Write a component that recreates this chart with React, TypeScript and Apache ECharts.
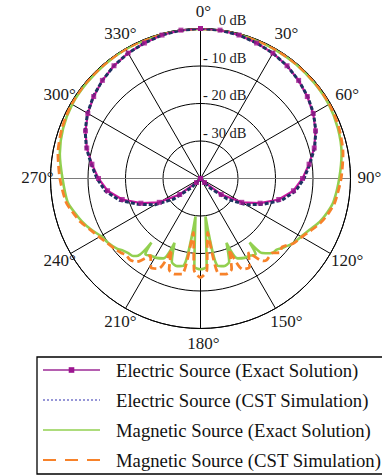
import React, { useEffect, useRef } from 'react';
import * as echarts from 'echarts';

// Electric source, angle (deg) and level (dB)
const elecAngles = [0, 7.5, 15, 22.5, 30, 37.5, 45, 52.5, 60, 67.5, 75, 82.5, 90, 97.5, 105, 112.5, 120, 127.5, 135, 142.5, 150, 157.5, 165, 172.5, 180,
  187.5, 195, 202.5, 210, 217.5, 225, 232.5, 240, 247.5, 255, 262.5, 270, 277.5, 285, 292.5, 300, 307.5, 315, 322.5, 330, 337.5, 345, 352.5, 360];
const elecExact = [0, -0.1, -0.4, -0.9, -1.4, -2.1, -3.0, -4.1, -5.3, -6.8, -8.6, -10.8, -12.8, -15.0, -18.4, -22.8, -27.3, -33.0, -38.5, -40, -40, -40, -40, -40, -40,
  -40, -40, -40, -40, -40, -38.5, -33.0, -27.3, -22.8, -18.4, -15.0, -12.8, -10.8, -8.6, -6.8, -5.3, -4.1, -3.0, -2.1, -1.4, -0.9, -0.4, -0.1, 0];
const elecCST = [0, -0.1, -0.4, -0.9, -1.4, -2.1, -3.0, -4.0, -5.2, -6.7, -8.5, -10.6, -12.4, -14.4, -17.6, -22.0, -26.0, -31.0, -36.5, -40, -40, -40, -40, -40, -40,
  -40, -40, -40, -40, -40, -36.5, -31.0, -26.0, -22.0, -17.6, -14.4, -12.4, -10.6, -8.5, -6.7, -5.2, -4.0, -3.0, -2.1, -1.4, -0.9, -0.4, -0.1, 0];

// Magnetic source
const magAngles = [0, 10, 20, 30, 40, 50, 60, 70, 80, 90,
  100, 105, 110, 115, 120, 125, 130, 133, 136, 139,
  141, 142.5, 144, 147, 151, 155, 158, 161, 165, 169,
  172.5, 176, 180, 184, 187.5, 191, 195, 199, 202, 205,
  209, 213, 216, 217.5, 219, 221, 224, 227, 230, 235,
  240, 245, 250, 255, 260, 270, 280, 290, 300, 310,
  320, 330, 340, 350, 360];
const magExact = [-0.1, -0.1, -0.2, -0.3, -0.3, -0.4, -0.5, -1.0, -1.8, -3.0,
  -4.0, -5.0, -6.2, -7.8, -9.0, -9.9, -11.3, -12.2, -12.4, -13.6,
  -14.6, -18.5, -15.0, -15.5, -15.8, -16.5, -21.5, -16.5, -15.8, -16.3,
  -29.8, -16.5, -15.8, -16.5, -29.8, -16.3, -15.8, -16.5, -21.5, -16.5,
  -15.8, -15.5, -15.0, -18.5, -13.5, -12.6, -12.3, -11.8, -10.9, -10.0,
  -9.3, -7.8, -6.4, -5.2, -4.0, -3.2, -1.9, -1.0, -0.5, -0.4,
  -0.3, -0.2, -0.2, -0.1, -0.1];
const magCST = [0, 0, -0.1, -0.2, -0.2, -0.2, -0.3, -0.7, -1.4, -2.5,
  -3.6, -4.6, -5.8, -7.4, -8.8, -9.8, -11.6, -11.0, -12.4, -12.2,
  -12.0, -12.3, -13.2, -16.5, -13.0, -13.3, -19.5, -14.5, -13.6, -14.0,
  -25.5, -15.5, -13.6, -15.5, -25.5, -14.0, -13.6, -14.3, -19.5, -13.5,
  -12.8, -15.5, -13.0, -12.0, -11.6, -11.3, -11.5, -11.0, -10.5, -9.8,
  -8.8, -7.6, -6.0, -4.8, -3.6, -2.5, -1.4, -0.7, -0.3, -0.2,
  -0.2, -0.1, -0.1, 0, 0];

// Tick labels
const angleTicks = [0, 30, 60, 90, 120, 150, 180, 210, 240, 270, 300, 330];
const radiusTicks = [0, -10, -20, -30];

const seriesNames = [
  'Electric Source (Exact Solution)',
  'Electric Source (CST Simulation)',
  'Magnetic Source (Exact Solution)',
  'Magnetic Source (CST Simulation)',
];

const SERIF = 'Liberation Serif, Times New Roman, serif';
const CX = 200.5, CY = 178.5, R = 150, RMIN = -40, RMAX = 0;

const toPolar = (vals: number[], angs: number[]) => vals.map((v, i) => [v, angs[i]]);

function tickLabelGraphics() {
  const out: any[] = [];
  angleTicks.forEach((a) => {
    const rad = (a * Math.PI) / 180;
    const dx = Math.sin(rad), dy = -Math.cos(rad);
    const rr = R + 16;
    out.push({
      type: 'text', x: CX + rr * dx + 3, y: CY + rr * dy - 1, z: 10,
      style: { text: a + '°', fontFamily: SERIF, fontSize: 17, fill: '#1a1a1a', align: 'center', verticalAlign: 'middle' },
    });
  });
  radiusTicks.forEach((v) => {
    const r = (R * (v - RMIN)) / (RMAX - RMIN);
    out.push({
      type: 'text', x: CX + 46, y: CY - r - 1, z: 10,
      style: {
        text: v === 0 ? '0 dB' : '- ' + Math.abs(v) + ' dB',
        fontFamily: SERIF, fontSize: 14.5, fill: '#1a1a1a', align: 'right', verticalAlign: 'bottom',
      },
    });
  });
  return out;
}

export default function App() {
  const ref = useRef<HTMLDivElement>(null);
  useEffect(() => {
    const chart = echarts.init(ref.current!, null, { renderer: 'svg' });
    const spokeColors = ['#000', '#000', '#000', '#7a7a7a', '#000', '#000', '#000', '#000', '#000', '#7a7a7a', '#000', '#000'];
    chart.setOption({
      animation: false,
      backgroundColor: '#fff',
      textStyle: { fontFamily: SERIF },
      polar: { center: [CX, CY], radius: R },
      angleAxis: {
        type: 'value', min: 0, max: 360, interval: 30, startAngle: 90, clockwise: true,
        axisLine: { show: true, lineStyle: { color: '#000', width: 1 } },
        axisTick: { show: false },
        axisLabel: { show: false },
        splitLine: { show: true, lineStyle: { color: spokeColors, width: 1 } },
      },
      radiusAxis: {
        type: 'value', min: RMIN, max: RMAX, interval: 10,
        axisLine: { show: false }, axisTick: { show: false },
        splitLine: { show: true, lineStyle: { color: '#000', width: 1 } },
        axisLabel: { show: false },
      },
      graphic: tickLabelGraphics(),
      legend: {
        orient: 'vertical', left: 37, top: 357,
        itemWidth: 57, itemHeight: 7, itemGap: 10,
        padding: [3, 24, 4, 5],
        borderColor: '#000', borderWidth: 1.3,
        selectedMode: false,
        textStyle: { fontFamily: SERIF, fontSize: 18.7, color: '#111', lineHeight: 20, padding: [0, 0, 0, 11] },
        data: [
          { name: seriesNames[0], lineStyle: { color: '#9c2a96', width: 1.5, type: 'solid' }, itemStyle: { color: '#9c1590' } },
          { name: seriesNames[1], lineStyle: { color: '#3030b0', width: 1.2, type: [2, 2] }, itemStyle: { opacity: 0 } },
          { name: seriesNames[2], lineStyle: { color: '#92d050', width: 1.6, type: 'solid' }, itemStyle: { opacity: 0 } },
          { name: seriesNames[3], lineStyle: { color: '#f7822a', width: 2, type: [13, 9] }, itemStyle: { opacity: 0 } },
        ],
      },
      series: [
        {
          name: seriesNames[2], type: 'line', coordinateSystem: 'polar', smooth: 0.25,
          data: toPolar(magExact, magAngles), showSymbol: false, symbol: 'none',
          lineStyle: { color: '#92d050', width: 2.6 }, itemStyle: { color: '#92d050' },
        },
        {
          name: seriesNames[3], type: 'line', coordinateSystem: 'polar', smooth: 0.25,
          data: toPolar(magCST, magAngles), showSymbol: false, symbol: 'none',
          lineStyle: { color: '#f7822a', width: 2.8, type: [8, 4] }, itemStyle: { color: '#f7822a' },
        },
        {
          name: seriesNames[0], type: 'line', coordinateSystem: 'polar',
          data: toPolar(elecExact, elecAngles), showSymbol: false, symbol: 'rect',
          lineStyle: { color: '#c8189f', width: 2.2 }, itemStyle: { color: '#9c1590' },
        },
        {
          name: seriesNames[1], type: 'line', coordinateSystem: 'polar',
          data: toPolar(elecCST, elecAngles), showSymbol: false, symbol: 'none',
          lineStyle: { color: '#1c3361', width: 3, type: [4, 2] }, itemStyle: { color: '#1c3361' },
        },
        {
          name: 'markers', type: 'scatter', coordinateSystem: 'polar',
          data: toPolar(elecExact, elecAngles), symbol: 'rect', symbolSize: 5,
          itemStyle: { color: '#a0148f' }, z: 3,
        },
      ],
    });
    return () => chart.dispose();
  }, []);
  return <div ref={ref} style={{ position: 'absolute', left: 0, top: 0, width: 382, height: 476 }} />;
}
